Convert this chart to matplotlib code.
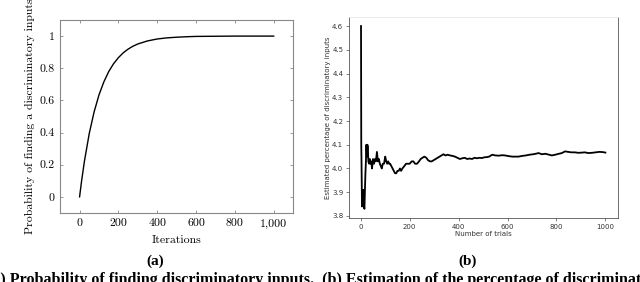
import matplotlib
matplotlib.use("Agg")
import matplotlib.pyplot as plt
from matplotlib.ticker import FuncFormatter

# (a) probability of finding discriminatory inputs vs iterations
iters = [0, 10, 25, 50, 75, 100, 125, 150, 175, 200, 225, 250, 275, 300,
         350, 400, 450, 500, 550, 600, 700, 800, 900, 1000]
prob = [0.0, 0.095, 0.222, 0.395, 0.529, 0.634, 0.715, 0.779, 0.828, 0.866,
        0.896, 0.919, 0.937, 0.951, 0.970, 0.982, 0.989, 0.993, 0.996, 0.998,
        0.999, 1.0, 1.0, 1.0]

# (b) running estimate of discriminatory percentage vs trials
trials = [1, 2, 3, 5, 7, 9, 11, 13, 15, 17, 19, 21, 23, 25, 27, 29, 31, 34, 37,
          40, 43, 46, 50, 54, 58, 62, 66, 70, 74, 78, 82, 86, 90, 95, 100, 104,
          108, 112, 116, 120, 125, 130, 135, 140, 145, 150, 155, 160, 165, 170,
          178, 185, 192, 200, 208, 215, 222, 230, 238, 245, 252, 260, 268, 275,
          283, 290, 298, 306, 314, 322, 330, 338, 346, 355, 365, 375, 385, 395,
          405, 415, 425, 435, 445, 455, 465, 475, 485, 495, 505, 515, 525, 537,
          550, 564, 578, 590, 605, 620, 635, 645, 660, 675, 690, 705, 715, 727,
          740, 755, 770, 781, 795, 810, 822, 835, 848, 860, 875, 890, 905, 916,
          930, 945, 960, 975, 990, 1000]
pct = [4.60, 4.10, 4.03, 3.84, 3.90, 3.85, 3.91, 3.84, 3.83, 3.91, 3.98, 4.03,
       4.10, 4.05, 4.10, 4.09, 4.03, 4.02, 4.04, 4.02, 4.03, 4.00, 4.04, 4.02,
       4.04, 4.03, 4.07, 4.03, 4.04, 4.02, 4.01, 4.00, 4.02, 4.02, 4.05, 4.03,
       4.02, 4.03, 4.02, 4.02, 4.01, 4.00, 3.99, 3.98, 3.98, 3.99, 3.99, 4.00,
       3.99, 4.00, 4.01, 4.02, 4.02, 4.02, 4.03, 4.03, 4.02, 4.02, 4.03, 4.04,
       4.045, 4.05, 4.045, 4.035, 4.03, 4.03, 4.035, 4.04, 4.045, 4.05, 4.055,
       4.06, 4.055, 4.058, 4.055, 4.053, 4.05, 4.045, 4.04, 4.043, 4.045, 4.04,
       4.042, 4.04, 4.045, 4.043, 4.045, 4.044, 4.047, 4.048, 4.05, 4.058,
       4.055, 4.054, 4.056, 4.055, 4.052, 4.05, 4.05, 4.05, 4.053, 4.055,
       4.058, 4.06, 4.062, 4.065, 4.06, 4.062, 4.058, 4.055, 4.058, 4.062,
       4.065, 4.072, 4.07, 4.068, 4.068, 4.066, 4.067, 4.068, 4.065, 4.066,
       4.068, 4.07, 4.069, 4.067]

fig = plt.figure(figsize=(6.4, 2.82), dpi=100)

# left panel, pgfplots look
ax1 = fig.add_axes([0.094, 0.245, 0.364, 0.684])
ax1.plot(iters, prob, color="black", lw=1.0)
ax1.set_xlim(-100, 1100)
ax1.set_ylim(-0.1, 1.1)
ax1.set_xticks([0, 200, 400, 600, 800, 1000])
ax1.set_yticks([0, 0.2, 0.4, 0.6, 0.8, 1])
ax1.xaxis.set_major_formatter(FuncFormatter(lambda v, p: f"{int(v):,}"))
ax1.yaxis.set_major_formatter(FuncFormatter(lambda v, p: "0" if v == 0 else ("1" if v == 1 else f"{v:.1f}")))
ax1.tick_params(direction="in", length=2.5, width=0.6, color="#888888",
                labelsize=8.5, top=True, right=True, pad=4)
for lab in ax1.get_xticklabels() + ax1.get_yticklabels():
    lab.set_family("cmr10")
for s in ax1.spines.values():
    s.set_color("#888888")
    s.set_linewidth(0.8)
ax1.set_xlabel("Iterations", family="cmr10", fontsize=8.5, labelpad=5)
ax1.set_ylabel("Probability of finding a discriminatory inputs",
               family="cmr10", fontsize=8.5, labelpad=3)

# right panel, matplotlib look
ax2 = fig.add_axes([0.545, 0.227, 0.420, 0.713])
ax2.plot(trials, pct, color="black", lw=1.3)
ax2.set_xticks([0, 200, 400, 600, 800, 1000])
ax2.set_yticks([3.8, 3.9, 4.0, 4.1, 4.2, 4.3, 4.4, 4.5, 4.6])
ax2.yaxis.set_major_formatter(FuncFormatter(lambda v, p: f"{v:.1f}"))
ax2.tick_params(length=2, width=0.5, labelsize=5, pad=2, color="#555555",
                labelcolor="#333333")
for s in ax2.spines.values():
    s.set_color("#555555")
    s.set_linewidth(0.6)
ax2.spines["top"].set_color("#e6e6e6")
ax2.set_xlabel("Number of trials", fontsize=5, labelpad=1, color="#333333")
ax2.set_ylabel("Estimated percentage of discriminatory inputs", fontsize=5,
               labelpad=1, color="#333333")

# captions
fig.text(0.242, 0.072, "(a)", family="Liberation Serif", fontsize=11,
         weight="bold", ha="center", va="center")
fig.text(0.730, 0.072, "(b)", family="Liberation Serif", fontsize=11,
         weight="bold", ha="center", va="center")
fig.text(-0.02, 0.008,
         "(a) Probability of finding discriminatory inputs.  "
         "(b) Estimation of the percentage of discriminatory inputs",
         family="Liberation Serif", fontsize=11.5, weight="bold",
         ha="left", va="center")

fig.savefig("out.png", dpi=100)
